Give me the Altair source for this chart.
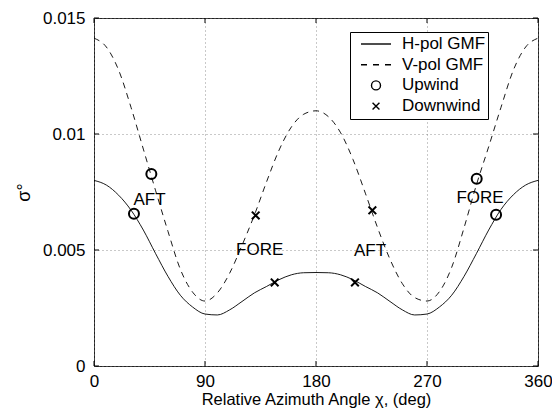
import altair as alt
import pandas as pd

# ---------------- data ----------------
chi = list(range(0, 361, 10))
# H-pol GMF (units of 1e-3)
h_pol = [8.0, 7.8, 7.36, 6.72, 5.86, 4.84, 3.86, 3.05, 2.54, 2.24,
         2.2, 2.42, 2.78, 3.15, 3.43, 3.72, 3.93, 4.02, 4.03,
         4.02, 3.93, 3.72, 3.43, 3.15, 2.78, 2.42, 2.2, 2.24, 2.54,
         3.05, 3.86, 4.84, 5.86, 6.75, 7.38, 7.8, 8.0]
# V-pol GMF (units of 1e-3)
v_pol = [14.13, 13.75, 12.75, 11.15, 9.35, 7.55, 5.8, 4.17, 3.18, 2.8,
         3.15, 4.0, 5.2, 6.5, 7.95, 9.3, 10.3, 10.85, 11.0,
         10.75, 10.05, 8.9, 7.45, 5.95, 4.6, 3.55, 2.95, 2.8, 3.2,
         4.25, 5.95, 7.8, 9.45, 11.15, 12.75, 13.75, 14.13]

up_chi = [32.4, 46.5, 310.3, 326.0]
up_sig = [6.56, 8.28, 8.07, 6.52]
down_chi = [131.1, 146.5, 211.6, 225.7]
down_sig = [6.49, 3.6, 3.6, 6.71]

lab_text = ["AFT", "FORE", "AFT", "FORE"]
lab_chi = [45.0, 134.3, 223.8, 313.0]
lab_sig = [7.14, 4.99, 4.94, 7.24]

x_ticks = [0, 90, 180, 270, 360]
y_ticks = [0, 0.005, 0.01, 0.015]

legend_names = ["H-pol GMF", "V-pol GMF", "Upwind", "Downwind"]

# ---------------- tables ----------------
df_h = pd.DataFrame({"chi": chi, "sigma": [v * 1e-3 for v in h_pol]})
df_v = pd.DataFrame({"chi": chi, "sigma": [v * 1e-3 for v in v_pol]})
df_pts = pd.DataFrame({
    "chi": up_chi + down_chi,
    "sigma": [v * 1e-3 for v in up_sig + down_sig],
    "kind": ["Upwind"] * len(up_chi) + ["Downwind"] * len(down_chi),
})
df_lab = pd.DataFrame({"chi": lab_chi, "sigma": [v * 1e-3 for v in lab_sig], "t": lab_text})
df_xt = pd.DataFrame({"chi": x_ticks})
df_yt = pd.DataFrame({"sigma": y_ticks})

FONT = "Liberation Sans"
W, H = 444, 348

xs = alt.Scale(domain=[0, 360], nice=False, zero=False)
ys = alt.Scale(domain=[0, 0.015], nice=False, zero=False)
xax = alt.Axis(values=x_ticks, format="d", title="Relative Azimuth Angle \u03c7, (deg)",
               tickSize=0, domain=False, labelPadding=7, labelFontSize=17,
               titleFontSize=16.5, titlePadding=2, labelFont=FONT, titleFont=FONT,
               titleFontWeight="normal", labelColor="black", titleColor="black",
               grid=True, gridDash=[1, 3], gridColor="#777", gridWidth=0.8,
               labelFlush=False)
yax = alt.Axis(values=y_ticks, labelExpr="format(datum.value, '.3~f')", title="\u03c3\u00b0",
               tickSize=0, domain=False, labelPadding=9, labelFontSize=17,
               titleFontSize=18, titlePadding=9, labelFont=FONT, titleFont=FONT,
               titleFontWeight="normal", labelColor="black", titleColor="black",
               grid=True, gridDash=[1, 3], gridColor="#777", gridWidth=0.8)

X = alt.X("chi:Q", scale=xs, axis=xax)
Y = alt.Y("sigma:Q", scale=ys, axis=yax)

line_h = alt.Chart(df_h).mark_line(color="black", strokeWidth=0.9, interpolate="monotone").encode(x=X, y=Y)
line_v = alt.Chart(df_v).mark_line(color="black", strokeWidth=0.9, strokeDash=[6, 5],
                                   interpolate="monotone").encode(x=X, y=Y)

shape_paths = [
    "M-1,0L1,0",
    "M-1,0L-0.6,0M-0.2,0L0.2,0M0.6,0L1,0",
    "M-0.3,0A0.3,0.3,0,1,1,0.3,0A0.3,0.3,0,1,1,-0.3,0Z",
    "M-0.23,-0.23L0.23,0.23M-0.23,0.23L0.23,-0.23",
]

nb = "\u00a0" * 4
points = alt.Chart(df_pts).mark_point(filled=False, color="black", strokeWidth=2, size=1111,
                                      opacity=1).encode(
    x=X, y=Y,
    shape=alt.Shape("kind:N", scale=alt.Scale(domain=legend_names, range=shape_paths),
                    legend=alt.Legend(title=None, orient="none", legendX=256, legendY=14,
                                      padding=2, symbolOffset=8, labelOffset=10,
                                      clipHeight=20, rowPadding=0.7,
                                      strokeColor="black", fillColor="white",
                                      labelFont=FONT, labelFontSize=17, labelColor="black",
                                      symbolSize=900, symbolStrokeWidth=1.4,
                                      symbolStrokeColor="black", symbolFillColor="transparent",
                                      labelExpr="datum.label + '" + nb + "'")),
)

labels = alt.Chart(df_lab).mark_text(font=FONT, fontSize=17, color="black",
                                     align="center", baseline="middle").encode(x=X, y=Y, text="t:N")

xt_bot = alt.Chart(df_xt).mark_rule(color="black", strokeWidth=1).encode(
    x=X, y=alt.value(H), y2=alt.value(H - 5))
xt_top = alt.Chart(df_xt).mark_rule(color="black", strokeWidth=1).encode(
    x=X, y=alt.value(0), y2=alt.value(5))
yt_left = alt.Chart(df_yt).mark_rule(color="black", strokeWidth=1).encode(
    y=Y, x=alt.value(0), x2=alt.value(5))
yt_right = alt.Chart(df_yt).mark_rule(color="black", strokeWidth=1).encode(
    y=Y, x=alt.value(W), x2=alt.value(W - 5))

chart = alt.layer(line_h, line_v, xt_bot, xt_top, yt_left, yt_right, labels, points).properties(
    width=W, height=H,
    autosize=alt.AutoSizeParams(type="none"),
    padding={"left": 94, "top": 18, "right": 14, "bottom": 52},
    background="white",
).configure_view(stroke="#222", strokeWidth=1)

chart.save("out.html", embed_options={"renderer": "svg", "actions": False})
